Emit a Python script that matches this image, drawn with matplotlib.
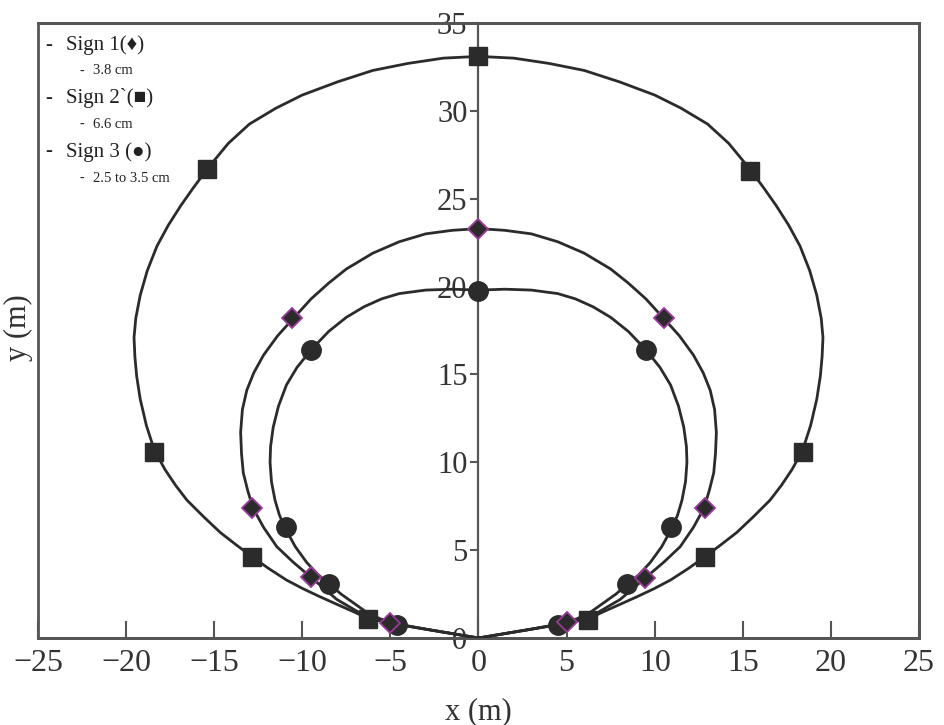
import matplotlib.pyplot as plt
from matplotlib.patches import Rectangle

plt.rcParams['font.family'] = ['Liberation Serif', 'DejaVu Sans']

# curve traces (right half, top -> origin), mirrored for the left half
outer_x = [0, 2, 4, 6, 8, 10, 11.5, 13, 14.2, 15.35, 16.2, 16.9, 17.6, 18.25, 18.8, 19.2, 19.45, 19.55,
           19.5, 19.4, 19.2, 18.85, 18.4, 17.8, 17.2, 16.55, 15.6, 14.65, 13.75, 12.85, 11.9, 10.9, 9.95, 9.0,
           8.0, 7.1, 6.25, 3.0, 0]
outer_y = [33.1, 33.0, 32.7, 32.3, 31.65, 30.9, 30.15, 29.25, 28.15, 26.75, 25.6, 24.6, 23.5, 22.3, 20.9, 19.5, 18.2, 17.1,
           16.0, 14.9, 13.6, 12.1, 10.7, 9.6, 8.7, 7.85, 6.9, 6.0, 5.3, 4.62, 3.95, 3.3, 2.8, 2.35,
           1.9, 1.5, 1.1, 0.5, 0]

middle_x = [0, 1.5, 3, 4.5, 6, 7.5, 8.5, 9.5, 10.5, 11.4, 12.2, 12.75, 13.15, 13.4, 13.5, 13.45, 13.35, 13.1,
            12.8, 12.2, 11.45, 10.5, 9.5, 8.05, 6.35, 5.0, 2.5, 0]
middle_y = [23.3, 23.2, 23.0, 22.55, 21.9, 21.0, 20.2, 19.3, 18.2, 17.2, 16.1, 15.1, 14.1, 13.0, 11.7, 10.5, 9.4, 8.4,
            7.4, 6.3, 5.2, 4.3, 3.45, 2.2, 1.2, 0.85, 0.42, 0]

inner_x = [0, 1.5, 3, 4.5, 5.5, 6.5, 7.5, 8.5, 9.5, 10.3, 10.9, 11.35, 11.65, 11.8, 11.83, 11.75, 11.55, 11.3, 11.0,
           10.4, 9.75, 9.1, 8.5, 7.8, 7.1, 6.4, 5.6, 4.5, 2.2, 0]
inner_y = [19.8, 19.85, 19.8, 19.6, 19.3, 18.85, 18.25, 17.45, 16.4, 15.4, 14.4, 13.2, 12.0, 10.9, 10.0, 8.9, 7.85, 7.0, 6.3,
           5.2, 4.3, 3.6, 3.1, 2.5, 2.0, 1.5, 1.1, 0.75, 0.37, 0]

# marker positions
sign1_x = [0, -10.6, 10.5, -12.85, 12.85, -9.5, 9.45, -5.0, 5.0]
sign1_y = [23.3, 18.2, 18.2, 7.4, 7.4, 3.45, 3.4, 0.85, 0.9]
sign2_x = [0, -15.4, 15.4, -18.4, 18.4, -12.85, 12.85, -6.25, 6.2]
sign2_y = [33.1, 26.7, 26.6, 10.6, 10.6, 4.6, 4.6, 1.1, 1.0]
sign3_x = [0, -9.5, 9.5, -10.95, 10.95, -8.5, 8.45, -4.6, 4.5]
sign3_y = [19.75, 16.4, 16.4, 6.3, 6.3, 3.1, 3.1, 0.75, 0.75]

x_ticks = [-25, -20, -15, -10, -5, 0, 5, 10, 15, 20, 25]
y_ticks = [0, 5, 10, 15, 20, 25, 30, 35]

legend_lines = [("Sign 1(\u2666)", "3.8 cm"),
                ("Sign 2`(\u25a0)", "6.6 cm"),
                ("Sign 3 (\u25cf)", "2.5 to 3.5 cm")]

line_c = '#2b2b2b'
axis_c = '#555555'
text_c = '#333333'

fig = plt.figure(figsize=(9.45, 7.25), dpi=100)
ax = fig.add_axes([38 / 945, 87 / 725, 881 / 945, 615 / 725])

for cx, cy in [(outer_x, outer_y), (middle_x, middle_y), (inner_x, inner_y)]:
    full_x = [-v for v in reversed(cx)] + cx
    full_y = list(reversed(cy)) + cy
    ax.plot(full_x, full_y, color=line_c, lw=2.0, zorder=3, solid_joinstyle='round')

ax.plot(sign2_x, sign2_y, 's', ms=13, color=line_c, zorder=4)
ax.plot(sign3_x, sign3_y, 'o', ms=14, color=line_c, zorder=4)
ax.plot(sign1_x, sign1_y, 'D', ms=10, mfc=line_c, mec='#9a3a9a', mew=1.3, zorder=5)

ax.set_xlim(-25, 25)
ax.set_ylim(0, 35)

for s in ['top', 'right', 'bottom']:
    ax.spines[s].set_color(axis_c)
    ax.spines[s].set_linewidth(2.0)
ax.spines['left'].set_position(('data', 0))
ax.spines['left'].set_color(axis_c)
ax.spines['left'].set_linewidth(1.6)
ax.add_patch(Rectangle((0, 0), 1, 1, transform=ax.transAxes, fill=False,
                       ec=axis_c, lw=2.0, clip_on=False, zorder=1))

ax.set_xticks(x_ticks)
ax.set_xticklabels([str(t).replace('-', '\u2212') for t in x_ticks])
ax.set_yticks(y_ticks)
ax.tick_params(axis='x', direction='in', length=12, width=1.5, color=axis_c,
               labelsize=23, labelcolor=text_c, pad=8)
ax.tick_params(axis='y', direction='out', length=6, width=1.5, color=axis_c,
               labelsize=22, labelcolor=text_c, pad=2)

ax.set_xlabel('x (m)', fontsize=22, color=text_c, labelpad=14)
fig.text(18 / 945, 1 - 328 / 725, 'y (m)', rotation=90, fontsize=22,
         color=text_c, ha='center', va='center')

# hand-made legend in the top left corner
top = 45
for i, (head, sub) in enumerate(legend_lines):
    y1 = top + i * 53.5
    y2 = y1 + 26
    fig.text(45 / 945, 1 - y1 / 725, '-', fontsize=15, color='#222222', va='center')
    fig.text(66 / 945, 1 - y1 / 725, head, fontsize=15, color='#222222', va='center')
    fig.text(80 / 945, 1 - y2 / 725, '-', fontsize=10, color='#222222', va='center')
    fig.text(93 / 945, 1 - y2 / 725, sub, fontsize=10.5, color='#222222', va='center')

fig.savefig('out.png', dpi=100)
